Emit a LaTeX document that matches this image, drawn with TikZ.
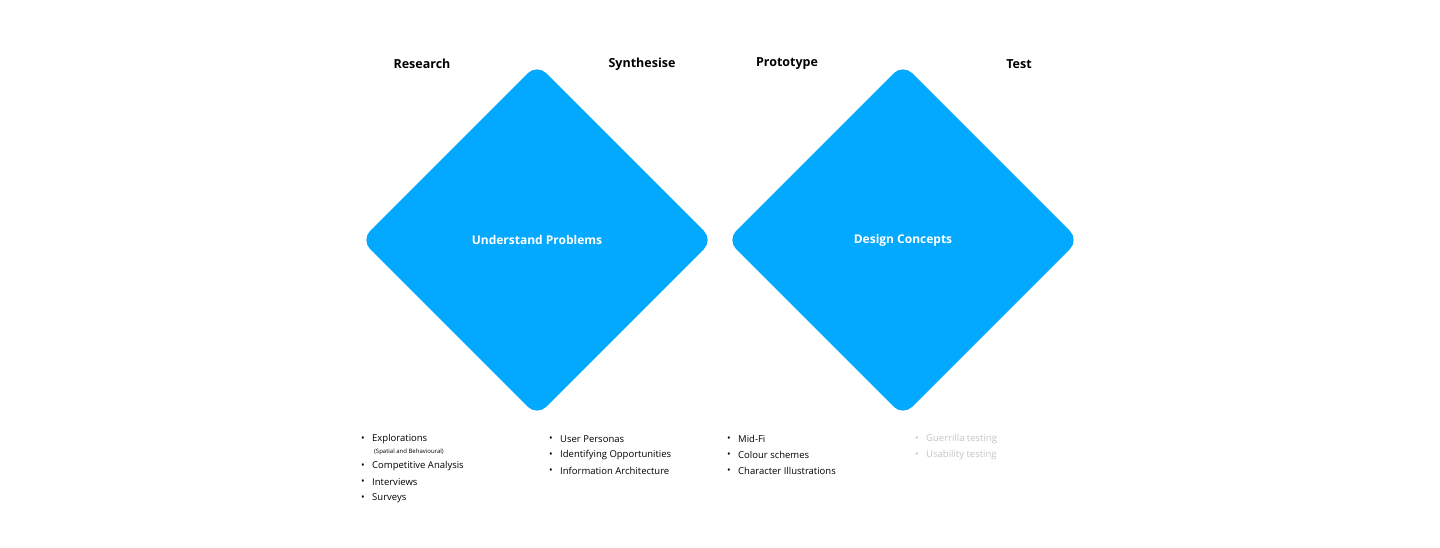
\documentclass[tikz,border=0pt]{standalone}
\usepackage{fontspec}
\setmainfont{Open Sans}
\definecolor{dblue}{HTML}{03A9FF}
\definecolor{lgray}{HTML}{C4C4C4}
\begin{document}
\begin{tikzpicture}[x=1pt,y=-1pt,
  head/.style={font=\bfseries\fontsize{12.5}{14}\selectfont,anchor=center},
  item/.style={font=\fontsize{9.5}{11}\selectfont,anchor=west,inner sep=0},
  bul/.style={font=\fontsize{9.5}{11}\selectfont,anchor=center,inner sep=0},
  dlabel/.style={font=\bfseries\fontsize{12}{14}\selectfont,text=white}]
\useasboundingbox (0,0) rectangle (1440,548);
\fill[dblue,rounded corners=13pt] (537,64) -- (713,240) -- (537,416) -- (361,240) -- cycle;
\fill[dblue,rounded corners=13pt] (903,64) -- (1079,240) -- (903,416) -- (727,240) -- cycle;
\node[dlabel] (d1) at (537,240) {Understand Problems};
\node[dlabel] (d2) at (903,240) {Design Concepts};
\node[head] (h1) at (422,64) {Research};
\node[head] (h2) at (642,64) {Synthesise};
\node[head] (h3) at (787,64) {Prototype};
\node[head] (h4) at (1019,64) {Test};
% column 1
\foreach \y/\t [count=\i] in {439/Explorations,466/Competitive Analysis,482/Interviews,498/Surveys}{
  \node[bul] (b1\i) at (363,\y) {•};
  \node[item] (t1\i) at (372,\y) {\t};}
\node[item,font=\fontsize{6}{7}\selectfont] (sub) at (374,452) {(Spatial and Behavioural)};
% column 2
\foreach \y/\t [count=\i] in {439/User Personas,455/Identifying Opportunities,471/Information Architecture}{
  \node[bul] (b2\i) at (551,\y) {•};
  \node[item] (t2\i) at (560,\y) {\t};}
% column 3
\foreach \y/\t [count=\i] in {439/Mid-Fi,455/Colour schemes,471/Character Illustrations}{
  \node[bul] (b3\i) at (729,\y) {•};
  \node[item] (t3\i) at (738,\y) {\t};}
% column 4
\foreach \y/\t [count=\i] in {439/Guerrilla testing,455/Usability testing}{
  \node[bul,text=lgray] (b4\i) at (917,\y) {•};
  \node[item,text=lgray] (t4\i) at (926,\y) {\t};}
\end{tikzpicture}
\end{document}
